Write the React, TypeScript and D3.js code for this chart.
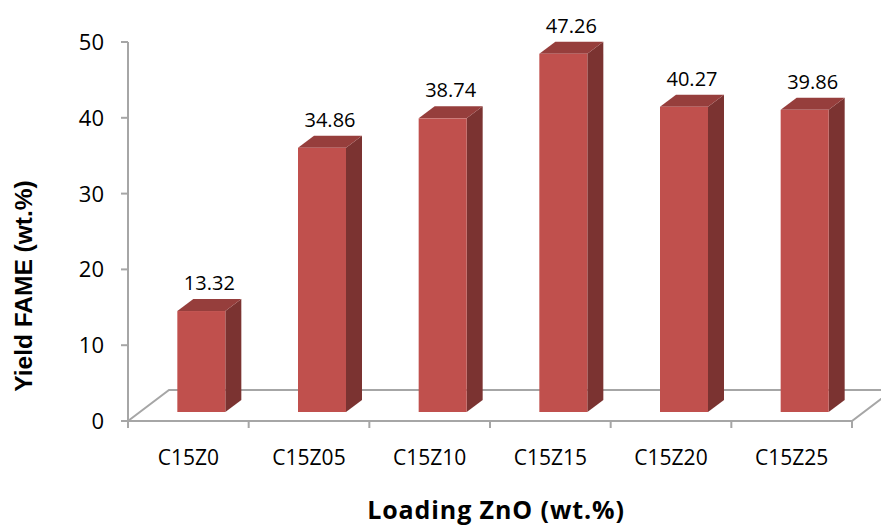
import React from "react";
import * as d3 from "d3";

// Catalyst samples and their FAME yields
const categories = ["C15Z0", "C15Z05", "C15Z10", "C15Z15", "C15Z20", "C15Z25"];
const yields = [13.32, 34.86, 38.74, 47.26, 40.27, 39.86];
const yTicks = [0, 10, 20, 30, 40, 50];

const W = 881;
const H = 526;

// Plot frame (front plane of the floor)
const x0 = 128;
const x1 = 852;
const yBase = 421;
const yTop = 42;

// Oblique depth of the floor, and where bars sit inside it
const floorDepth = { dx: 41, dy: -31 };
const barFront = { dx: 13, dy: -9 };
const barDepth = { dx: 16, dy: -12 };
const barWidth = 48;

const colors = {
  front: "#C0504D",
  top: "#963E3C",
  side: "#7B3331",
  axis: "#A6A6A6",
  text: "#000000",
};

export default function App() {
  const x = d3.scaleBand<string>().domain(categories).range([x0, x1]).padding(0);
  const y = d3.scaleLinear().domain([0, 50]).range([yBase, yTop]);

  const tickFont = "'Open Sans', sans-serif";

  return (
    <svg
      width={W}
      height={H}
      style={{ position: "absolute", left: 0, top: 0, background: "#fff" }}
    >
      {/* floor */}
      <polygon
        points={[
          [x0, yBase],
          [x0 + floorDepth.dx, yBase + floorDepth.dy],
          [x1 + floorDepth.dx, yBase + floorDepth.dy],
          [x1, yBase],
        ]
          .map((p) => p.join(","))
          .join(" ")}
        fill="none"
        stroke={colors.axis}
        strokeWidth={2}
      />

      {/* value axis */}
      <line x1={x0} x2={x0} y1={y(50)} y2={yBase} stroke={colors.axis} strokeWidth={2} />
      {yTicks.map((t) => (
        <g key={t}>
          <line x1={x0 - 7} x2={x0} y1={y(t)} y2={y(t)} stroke={colors.axis} strokeWidth={2} />
          <text
            x={x0 - 24}
            y={y(t)}
            dy="0.36em"
            textAnchor="end"
            fontFamily={tickFont}
            fontSize={22}
            fill={colors.text}
          >
            {t}
          </text>
        </g>
      ))}

      {/* category axis ticks and labels */}
      {[...categories.map((c) => x(c) as number), x1].map((px, i) => (
        <line
          key={i}
          x1={px}
          x2={px}
          y1={yBase}
          y2={yBase + 7}
          stroke={colors.axis}
          strokeWidth={2}
        />
      ))}
      {categories.map((c) => (
        <text
          key={c}
          x={(x(c) as number) + x.bandwidth() / 2}
          y={465}
          textAnchor="middle"
          fontFamily={tickFont}
          fontSize={21}
          fill={colors.text}
        >
          {c}
        </text>
      ))}

      {/* 3D bars */}
      {categories.map((c, i) => {
        const v = yields[i];
        const cx = (x(c) as number) + x.bandwidth() / 2 + barFront.dx;
        const l = cx - barWidth / 2;
        const r = cx + barWidth / 2;
        const b = y(0) + barFront.dy;
        const t = y(v) + barFront.dy;
        const { dx, dy } = barDepth;
        const pts = (arr: number[][]) => arr.map((p) => p.join(",")).join(" ");
        return (
          <g key={c}>
            <polygon
              points={pts([
                [r, t],
                [r + dx, t + dy],
                [r + dx, b + dy],
                [r, b],
              ])}
              fill={colors.side}
            />
            <polygon
              points={pts([
                [l, t],
                [l + dx, t + dy],
                [r + dx, t + dy],
                [r, t],
              ])}
              fill={colors.top}
            />
            <rect x={l} y={t} width={barWidth} height={b - t} fill={colors.front} />
            <text
              x={cx + dx / 2}
              y={t + dy - 9}
              textAnchor="middle"
              fontFamily={tickFont}
              fontSize={20}
              fill={colors.text}
            >
              {v.toFixed(2)}
            </text>
          </g>
        );
      })}

      {/* axis titles */}
      <text
        transform="translate(23,286) rotate(-90)"
        dy="0.35em"
        textAnchor="middle"
        fontFamily="'Liberation Sans', Arial, sans-serif"
        fontWeight="bold"
        fontSize={24.5}
        fill={colors.text}
      >
        Yield FAME (wt.%)
      </text>
      <text
        x={496}
        y={519}
        textAnchor="middle"
        fontFamily={tickFont}
        fontWeight="bold"
        fontSize={25}
        letterSpacing={0.9}
        fill={colors.text}
      >
        Loading ZnO (wt.%)
      </text>
    </svg>
  );
}
